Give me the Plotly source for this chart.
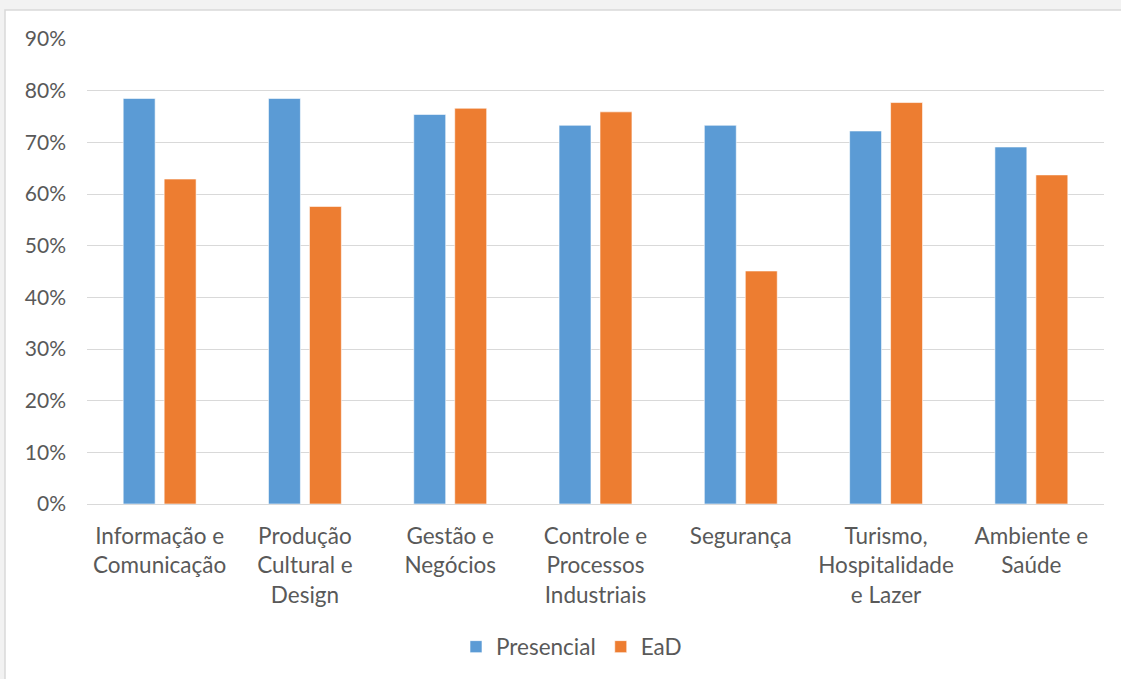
import plotly.graph_objects as go

categories = ["Informação e<br>Comunicação", "Produção<br>Cultural e<br>Design", "Gestão e<br>Negócios",
              "Controle e<br>Processos<br>Industriais", "Segurança", "Turismo,<br>Hospitalidade<br>e Lazer",
              "Ambiente e<br>Saúde"]
presencial = [0.785, 0.785, 0.754, 0.733, 0.733, 0.722, 0.691]
ead = [0.629, 0.576, 0.766, 0.759, 0.451, 0.777, 0.637]
y_ticks = [0, 0.1, 0.2, 0.3, 0.4, 0.5, 0.6, 0.7, 0.8, 0.9]

W, H = 1121, 679
L, R, T, B = 87, 17, 39, 175
pw, ph = W - L - R, H - T - B

fig = go.Figure()
fig.add_trace(go.Bar(name="Presencial", x=categories, y=presencial,
                     marker=dict(color="#5b9bd5", line=dict(color="#ffffff", width=0.6))))
fig.add_trace(go.Bar(name="EaD", x=categories, y=ead,
                     marker=dict(color="#ed7d31", line=dict(color="#ffffff", width=0.6))))

font = "Lato, Carlito, Calibri, sans-serif"
fig.update_layout(
    width=W, height=H,
    margin=dict(l=L, r=R, t=T, b=B, autoexpand=False),
    paper_bgcolor="#f2f2f2", plot_bgcolor="#ffffff",
    barmode="group", bargap=0.436, bargroupgap=0.22,
    font=dict(family=font, size=22, color="#595959"),
    showlegend=True,
    legend=dict(orientation="h", x=0.5 - 24 / pw, xanchor="center", y=(504 - 647) / 465, yanchor="middle",
                font=dict(size=22.5, color="#595959"), itemwidth=30, traceorder="normal",
                bgcolor="rgba(0,0,0,0)"),
    xaxis=dict(showgrid=False, showline=True, linecolor="#d9d9d9", linewidth=1,
               ticks="", ticklabelstandoff=12, tickfont=dict(size=22.5, color="#595959")),
    yaxis=dict(range=[0, 0.9], tickvals=y_ticks, tickformat=".0%", showgrid=True,
               gridcolor="#d9d9d9", gridwidth=1, zeroline=False, showline=False,
               ticks="", ticklabelstandoff=20, tickfont=dict(size=21, color="#595959")),
    shapes=[dict(type="rect", xref="paper", yref="paper", layer="below",
                 x0=(5 - L) / pw, x1=(W + 10 - L) / pw,
                 y0=(T + ph - (H + 10)) / ph, y1=(T + ph - 10) / ph,
                 fillcolor="#ffffff", line=dict(color="#d9d9d9", width=1.5))],
)

fig.write_html("out.html", config={"displayModeBar": False},
               post_script="document.body.style.margin='0';document.body.style.overflow='hidden';")
